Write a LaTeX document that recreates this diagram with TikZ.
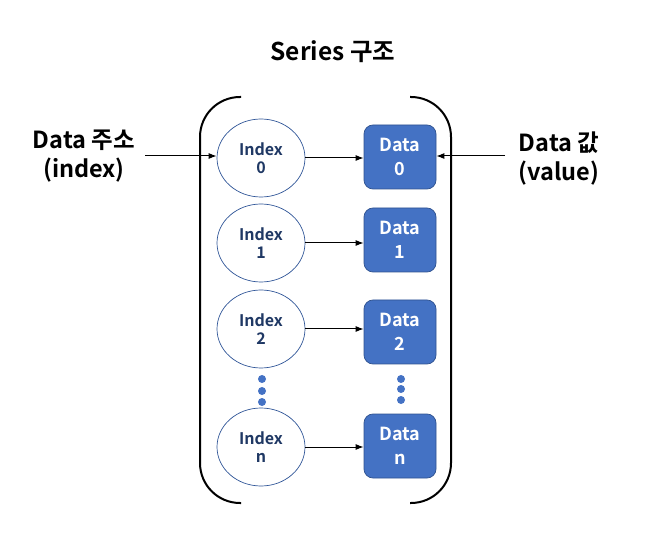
\documentclass[tikz,border=0pt]{standalone}
\usepackage{fontspec}
\setmainfont{Noto Sans CJK KR}[BoldFont={Noto Sans CJK KR Bold}]
\usetikzlibrary{arrows.meta,shapes.geometric}
\definecolor{boxfill}{HTML}{4472C4}
\definecolor{boxline}{HTML}{2F528F}
\definecolor{idxtext}{HTML}{1F3864}
\definecolor{ellline}{HTML}{2F5597}
\begin{document}
\begin{tikzpicture}[x=1pt,y=-1pt,
  idx/.style={ellipse,draw=ellline,line width=0.7pt,minimum width=88pt,minimum height=78pt,inner sep=0pt,align=center,font=\bfseries\fontsize{16}{18}\selectfont,text=idxtext},
  dbox/.style={rectangle,rounded corners=9pt,draw=boxline,fill=boxfill,line width=0.7pt,minimum width=72pt,minimum height=64pt,inner sep=0pt,align=center,font=\bfseries\fontsize{18}{24}\selectfont,text=white},
  lbl/.style={align=center,font=\bfseries\fontsize{23.5}{29}\selectfont},
  arr/.style={-{Latex[length=8pt,width=6pt]},line width=1pt},
  brk/.style={line width=2pt,rounded corners=40pt},
  dot/.style={circle,fill=boxfill,inner sep=0pt,minimum size=8pt}]
\useasboundingbox (0,0) rectangle (654,556);
\node[lbl,font=\bfseries\fontsize{24.5}{29}\selectfont] (title) at (333,52) {Series 구조};
\draw[brk] (241,97) -- (200,97) -- (200,503) -- (241,503);
\draw[brk] (410,97) -- (451,97) -- (451,503) -- (410,503);
\node[idx] (i0) at (261,158) {Index\\0};
\node[idx] (i1) at (261,243) {Index\\1};
\node[idx] (i2) at (261,329) {Index\\2};
\node[idx] (in) at (261,447) {Index\\n};
\node[dbox] (d0) at (400,157) {Data\\0};
\node[dbox] (d1) at (400,240) {Data\\1};
\node[dbox] (d2) at (400,332) {Data\\2};
\node[dbox] (dn) at (400,446) {Data\\n};
\foreach \y [count=\k] in {379,391,402}{\node[dot] (ld\k) at (262,\y) {};}
\foreach \y [count=\k] in {379,389,400}{\node[dot] (rd\k) at (401,\y) {};}
\draw[arr] (i0.east) -- (d0.west |- i0.east);
\draw[arr] (i1.east) -- (d1.west |- i1.east);
\draw[arr] (i2.east) -- (d2.west |- i2.east);
\draw[arr] (in.east) -- (dn.west |- in.east);
\node[lbl] (lidx) at (84,156) {Data 주소\\(index)};
\node[lbl] (lval) at (559,159) {Data 값\\(value)};
\coordinate (la) at (145,156);
\coordinate (ra) at (505,156);
\draw[arr] (la) -- (i0.west |- la);
\draw[arr] (ra) -- (d0.east |- ra);
\end{tikzpicture}
\end{document}
